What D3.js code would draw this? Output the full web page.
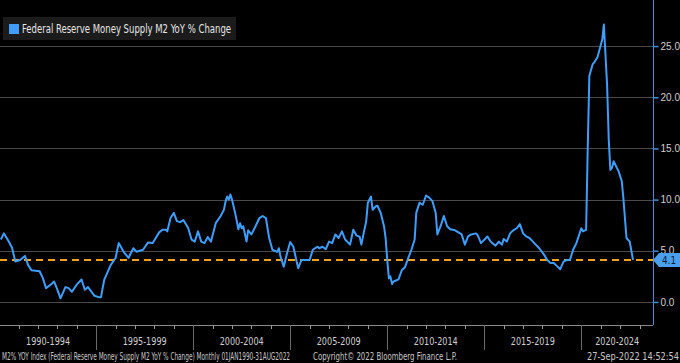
<!DOCTYPE html>
<html>
<head>
<meta charset="utf-8">
<script src="https://cdn.jsdelivr.net/npm/d3@7"></script>
<style>
  html, body { margin: 0; padding: 0; background: #000; }
  svg { display: block; }
  text { font-family: "DejaVu Sans Condensed", "Liberation Sans", Arial, sans-serif; }
</style>
</head>
<body>
<div id="chart"></div>
<script>
// M2 YoY % change (month -> value)
var months = [
  "1990-01","1990-03","1990-06","1990-08","1990-10","1991-01","1991-04","1991-06","1991-08",
  "1992-01","1992-03","1992-05","1992-08","1992-10","1992-12","1993-02","1993-05","1993-07",
  "1993-09","1993-12","1994-03","1994-05","1994-07","1994-11","1995-02","1995-03","1995-05",
  "1995-09","1995-12","1996-02","1996-05","1996-08","1996-11","1997-01","1997-05","1997-08",
  "1997-11","1998-03","1998-05","1998-07","1998-08","1998-10","1998-12","1999-02","1999-04",
  "1999-06","1999-09","1999-11","2000-01","2000-03","2000-05","2000-07","2000-09","2000-11",
  "2001-02","2001-05","2001-07","2001-08","2001-09","2001-10","2001-11","2001-12","2002-02",
  "2002-04","2002-05","2002-06","2002-07","2002-09","2002-10","2002-12","2003-02","2003-05",
  "2003-07","2003-09","2003-11","2004-01","2004-04","2004-05","2004-06","2004-08","2004-10",
  "2004-12","2005-02","2005-04","2005-05","2005-07","2005-10","2005-12","2006-02","2006-05",
  "2006-06","2006-08","2006-10","2006-12","2007-02","2007-04","2007-06","2007-08","2007-10",
  "2008-01","2008-03","2008-05","2008-07","2008-08","2008-09","2008-11","2008-12","2009-02",
  "2009-03","2009-05","2009-06","2009-08","2009-10","2009-11","2009-12","2010-01","2010-02",
  "2010-03","2010-04","2010-07","2010-09","2010-11","2011-01","2011-03","2011-05","2011-06",
  "2011-08","2011-10","2011-12","2012-02","2012-04","2012-06","2012-07","2012-09","2012-11",
  "2013-01","2013-03","2013-06","2013-08","2013-10","2013-12","2014-02","2014-04","2014-07",
  "2014-08","2014-10","2015-02","2015-04","2015-07","2015-09","2015-11","2015-12","2016-02",
  "2016-04","2016-06","2016-08","2016-10","2016-12","2017-02","2017-04","2017-07","2017-10",
  "2018-01","2018-03","2018-05","2018-07","2018-09","2018-11","2019-01","2019-03","2019-05",
  "2019-07","2019-09","2019-12","2020-01","2020-03","2020-04","2020-05","2020-07","2020-08",
  "2020-10","2020-11","2021-01","2021-02","2021-04","2021-05","2021-06","2021-07","2021-08",
  "2021-10","2021-11","2022-01","2022-02","2022-04","2022-06","2022-08"
];
var values = [
  6.1,6.7,5.9,5.3,3.95,4.1,4.5,3.6,3.1,
  3.0,2.35,1.35,1.7,2.0,1.2,0.36,1.45,1.35,
  1.0,1.7,2.2,1.2,1.45,0.6,0.45,0.45,2.15,
  3.6,4.3,5.75,4.9,4.3,5.25,4.9,5.1,5.8,
  5.75,6.8,7.05,7.05,6.9,8.2,8.7,7.9,7.8,
  8.0,7.2,6.1,5.9,6.9,5.9,5.75,6.35,5.9,
  7.7,8.4,9.0,9.8,10.3,10.0,10.5,10.0,8.7,
  7.1,7.7,7.2,7.4,5.9,7.0,6.6,7.2,8.2,
  8.4,8.2,6.25,5.1,4.9,5.25,4.45,3.45,4.75,
  5.85,5.4,3.95,3.3,4.1,4.1,4.1,5.1,5.4,
  5.25,5.4,5.15,5.9,5.75,6.6,6.25,6.9,6.1,
  5.6,7.05,6.5,6.35,5.6,6.4,7.9,9.7,10.3,
  9.0,9.35,9.4,8.7,7.4,6.25,4.1,2.3,2.5,
  1.75,2.0,2.2,3.1,3.4,4.3,5.1,6.1,8.7,
  9.7,9.5,10.4,10.2,9.85,8.7,6.6,7.4,8.4,
  7.4,7.1,7.0,6.8,6.6,5.6,6.4,6.6,6.7,
  6.5,5.75,6.4,5.9,5.5,5.9,5.6,6.15,5.9,
  6.7,7.0,7.2,7.6,6.7,6.4,6.25,5.75,5.25,
  4.6,4.1,3.8,3.8,3.5,3.2,3.95,4.1,4.1,
  5.1,5.75,7.2,6.9,7.05,14.9,22.1,23.2,23.4,
  23.9,24.5,25.7,27.1,21.2,15.9,12.9,13.1,13.75,
  13.1,12.8,11.8,10.3,6.25,5.9,4.1
];
var lastValue = 4.1;
var yTicks = [0, 5, 10, 15, 20, 25];
var periodStarts = [1990, 1995, 2000, 2005, 2010, 2015, 2020];
var periodLabels = ["1990-1994", "1995-1999", "2000-2004", "2005-2009", "2010-2014", "2015-2019", "2020-2024"];
var legendLabel = "Federal Reserve Money Supply M2 YoY % Change";
var footerLeft = "M2% YOY Index (Federal Reserve Money Supply M2 YoY % Change)  Monthly 01JAN1990-31AUG2022";
var footerMid = "Copyright\u00a9 2022 Bloomberg Finance L.P.";
var footerRight = "27-Sep-2022 14:52:54";

var width = 680, height = 363;
var plotRight = 653, plotBottom = 325;
var lineColor = "#3f9dfb";
var labelColor = "#cfcfcf";

var parseMonth = d3.timeParse("%Y-%m");
// monthly values sit at the end of their month
var data = months.map(function(m, i) {
    return { date: d3.timeMonth.offset(parseMonth(m), 1), value: values[i] };
});

var svg = d3.select("#chart").append("svg")
    .attr("width", width)
    .attr("height", height)
    .style("background", "#000");

var x = d3.scaleTime()
    .domain([new Date(1990, 0, 1), new Date(2023, 8, 12)])
    .range([-0.85, plotRight]);
var y = d3.scaleLinear()
    .domain([-2.25, 29.5])
    .range([plotBottom, 0]);

// squeeze text to the narrow Bloomberg face
function fit(sel, len) {
    sel.attr("textLength", len).attr("lengthAdjust", "spacingAndGlyphs");
}

// grid
svg.append("g").selectAll("line")
    .data(yTicks)
    .enter().append("line")
    .attr("x1", 0).attr("x2", plotRight)
    .attr("y1", function(d) { return Math.round(y(d)) + 0.5; })
    .attr("y2", function(d) { return Math.round(y(d)) + 0.5; })
    .attr("stroke", "#4a4a4a")
    .attr("stroke-width", 1);

// right axis
var yAxis = d3.axisRight(y)
    .tickValues(yTicks)
    .tickSize(5)
    .tickPadding(2)
    .tickFormat(d3.format(".1f"));
var gy = svg.append("g")
    .attr("transform", "translate(" + (plotRight + 0.5) + ",0)")
    .call(yAxis);
gy.select(".domain").remove();
gy.selectAll(".tick line").attr("stroke", "#3f8fe0").attr("stroke-width", 1.5);
gy.selectAll(".tick text")
    .attr("fill", labelColor)
    .attr("font-size", 10)
    .style("font-family", "'Liberation Sans', Arial, sans-serif");
svg.append("line")
    .attr("x1", plotRight + 0.5).attr("x2", plotRight + 0.5)
    .attr("y1", 0).attr("y2", plotBottom)
    .attr("stroke", "#3f8fe0")
    .attr("stroke-width", 1);

// bottom axis: year ticks and 5-year separators
svg.append("line")
    .attr("x1", 0).attr("x2", plotRight)
    .attr("y1", plotBottom + 0.5).attr("y2", plotBottom + 0.5)
    .attr("stroke", "#8a8a8a");
var years = d3.range(1990, 2024);
svg.append("g").selectAll("line")
    .data(years)
    .enter().append("line")
    .attr("x1", function(d) { return Math.round(x(new Date(d, 0, 1))) + 0.5; })
    .attr("x2", function(d) { return Math.round(x(new Date(d, 0, 1))) + 0.5; })
    .attr("y1", plotBottom)
    .attr("y2", function(d) { return d % 5 == 0 ? 350 : plotBottom + 4; })
    .attr("stroke", function(d) { return d % 5 == 0 ? "#6a6a6a" : "#9a9a9a"; });

svg.append("g").selectAll("text")
    .data(periodStarts)
    .enter().append("text")
    .attr("x", function(d) {
        var a = Math.max(0, x(new Date(d, 0, 1)));
        var b = Math.min(plotRight, x(new Date(d + 5, 0, 1)));
        return (a + b) / 2 - 22;
    })
    .attr("y", 345)
    .attr("fill", labelColor)
    .attr("font-size", 11)
    .text(function(d, i) { return periodLabels[i]; })
    .call(fit, 44);

// last value reference line
svg.append("line")
    .attr("x1", 0).attr("x2", plotRight)
    .attr("y1", y(lastValue)).attr("y2", y(lastValue))
    .attr("stroke", "#f5a21b")
    .attr("stroke-width", 2)
    .attr("stroke-dasharray", "7,5");

// series
var line = d3.line()
    .x(function(d) { return x(d.date); })
    .y(function(d) { return y(d.value); });
svg.append("path")
    .datum(data)
    .attr("d", line)
    .attr("fill", "none")
    .attr("stroke", lineColor)
    .attr("stroke-width", 2)
    .attr("stroke-linejoin", "round");

// last value tag
var ty = y(lastValue);
svg.append("path")
    .attr("d", "M" + plotRight + "," + ty + "L" + (plotRight + 6) + "," + (ty - 7) + "L680," + (ty - 7) +
        "L680," + (ty + 7) + "L" + (plotRight + 6) + "," + (ty + 7) + "Z")
    .attr("fill", "#4a9fee");
svg.append("text")
    .attr("x", plotRight + 9)
    .attr("y", ty + 4)
    .attr("fill", "#0b1e3a")
    .attr("font-size", 11)
    .text(d3.format(".1f")(lastValue))
    .call(fit, 14);

// legend
var legend = svg.append("g").attr("transform", "translate(3,17)");
legend.append("rect")
    .attr("width", 233).attr("height", 23)
    .attr("fill", "#1b1b1b");
legend.append("rect")
    .attr("x", 6).attr("y", 7)
    .attr("width", 10).attr("height", 10)
    .attr("fill", lineColor);
legend.append("text")
    .attr("x", 19).attr("y", 16)
    .attr("fill", "#e6e6e6")
    .attr("font-size", 11.5)
    .text(legendLabel)
    .call(fit, 209);

// footer
svg.append("text").attr("x", 2).attr("y", 360)
    .attr("fill", "#c8c8c8").attr("font-size", 10).text(footerLeft)
    .call(fit, 288);
svg.append("text").attr("x", 313).attr("y", 360)
    .attr("fill", "#c8c8c8").attr("font-size", 10).text(footerMid)
    .call(fit, 144);
svg.append("text").attr("x", 587).attr("y", 360)
    .attr("fill", "#c8c8c8").attr("font-size", 10).text(footerRight)
    .call(fit, 92);
</script>
</body>
</html>
